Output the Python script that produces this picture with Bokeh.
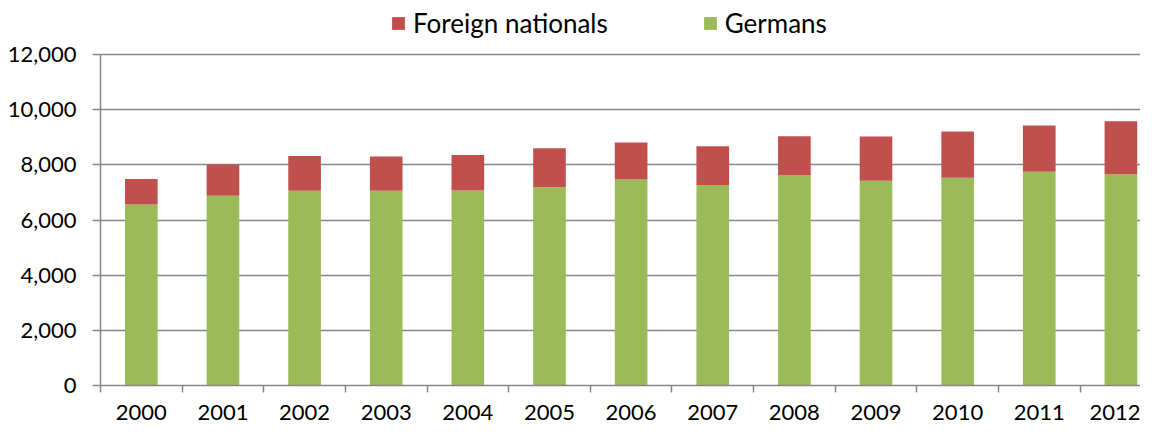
from bokeh.plotting import figure
from bokeh.models import (Range1d, FixedTicker, NumeralTickFormatter, Legend,
                          LegendItem, ColumnDataSource)
from bokeh.embed import file_html
from bokeh.resources import INLINE

years = ["2000", "2001", "2002", "2003", "2004", "2005", "2006",
         "2007", "2008", "2009", "2010", "2011", "2012"]
germans = [6565, 6880, 7060, 7060, 7070, 7190, 7472, 7271, 7635, 7424, 7530, 7753, 7659]
foreign = [925, 1130, 1258, 1245, 1285, 1410, 1340, 1401, 1400, 1600, 1682, 1671, 1917]
y_ticks = [0, 2000, 4000, 6000, 8000, 10000, 12000]
series_names = ["Foreign nationals", "Germans"]

GREEN = "#9BBB59"
RED = "#C0504D"
GRID = "#878787"
FONT = "Lato"

x = [i + 0.5 for i in range(len(years))]
source = ColumnDataSource(dict(x=x, germans=germans, foreign=foreign, year=years))

# frame spans the full height above the x axis; extra room at the top holds the legend
FRAME_TOP, FRAME_BOTTOM, TOP_TICK_PX = 5, 385, 54
y_end = y_ticks[-1] * (FRAME_BOTTOM - FRAME_TOP) / (FRAME_BOTTOM - TOP_TICK_PX)

p = figure(width=1140, height=425, output_backend="svg", toolbar_location=None,
           x_range=Range1d(0, 12.74), y_range=Range1d(0, y_end),
           min_border_left=100, min_border_right=0, min_border_top=FRAME_TOP,
           min_border_bottom=425 - FRAME_BOTTOM)
p.outline_line_color = None
p.background_fill_color = "white"

rs = p.vbar_stack(["germans", "foreign"], x="x", width=0.4, source=source,
                  color=[GREEN, RED], line_color=None)

# x axis: labels at centers, tick marks at category boundaries
p.xaxis.ticker = FixedTicker(ticks=x, minor_ticks=list(range(0, len(years) + 1)))
p.xaxis.major_label_overrides = {xi: yr for xi, yr in zip(x, years)}
p.xaxis.major_tick_out = 0
p.xaxis.major_tick_in = 0
p.xaxis.minor_tick_out = 7
p.xaxis.minor_tick_in = 0
p.xaxis.minor_tick_line_color = GRID
p.xaxis.minor_tick_line_width = 1.5
p.xaxis.axis_line_color = GRID
p.xaxis.axis_line_width = 1.5
p.xaxis.major_label_standoff = 12
p.xaxis.major_label_text_font = FONT
p.xaxis.major_label_text_font_size = "22px"
p.xaxis.major_label_text_color = "black"
p.xgrid.grid_line_color = None

# y axis
yt = FixedTicker(ticks=y_ticks, minor_ticks=[])
p.yaxis.ticker = yt
p.yaxis.bounds = (y_ticks[0], y_ticks[-1])
p.yaxis.formatter = NumeralTickFormatter(format="0,0")
p.yaxis.major_tick_out = 8
p.yaxis.major_tick_in = 0
p.yaxis.major_tick_line_color = GRID
p.yaxis.major_tick_line_width = 1.5
p.yaxis.minor_tick_line_color = None
p.yaxis.axis_line_color = GRID
p.yaxis.axis_line_width = 1.5
p.yaxis.major_label_standoff = 16
p.yaxis.major_label_text_font = FONT
p.yaxis.major_label_text_font_size = "22px"
p.yaxis.major_label_text_color = "black"
p.ygrid.ticker = yt
p.ygrid.grid_line_color = GRID
p.ygrid.grid_line_width = 1.5

legend = Legend(items=[LegendItem(label=series_names[0], renderers=[rs[1]]),
                       LegendItem(label=series_names[1], renderers=[rs[0]])],
                location=(290, 346), orientation="horizontal", padding=0, margin=0,
                spacing=94, border_line_color=None, background_fill_alpha=0,
                glyph_width=16, glyph_height=16, label_standoff=7,
                label_text_font=FONT, label_text_font_size="26px",
                label_text_color="black")
p.add_layout(legend)

open("out.html", "w").write(file_html(p, INLINE))
